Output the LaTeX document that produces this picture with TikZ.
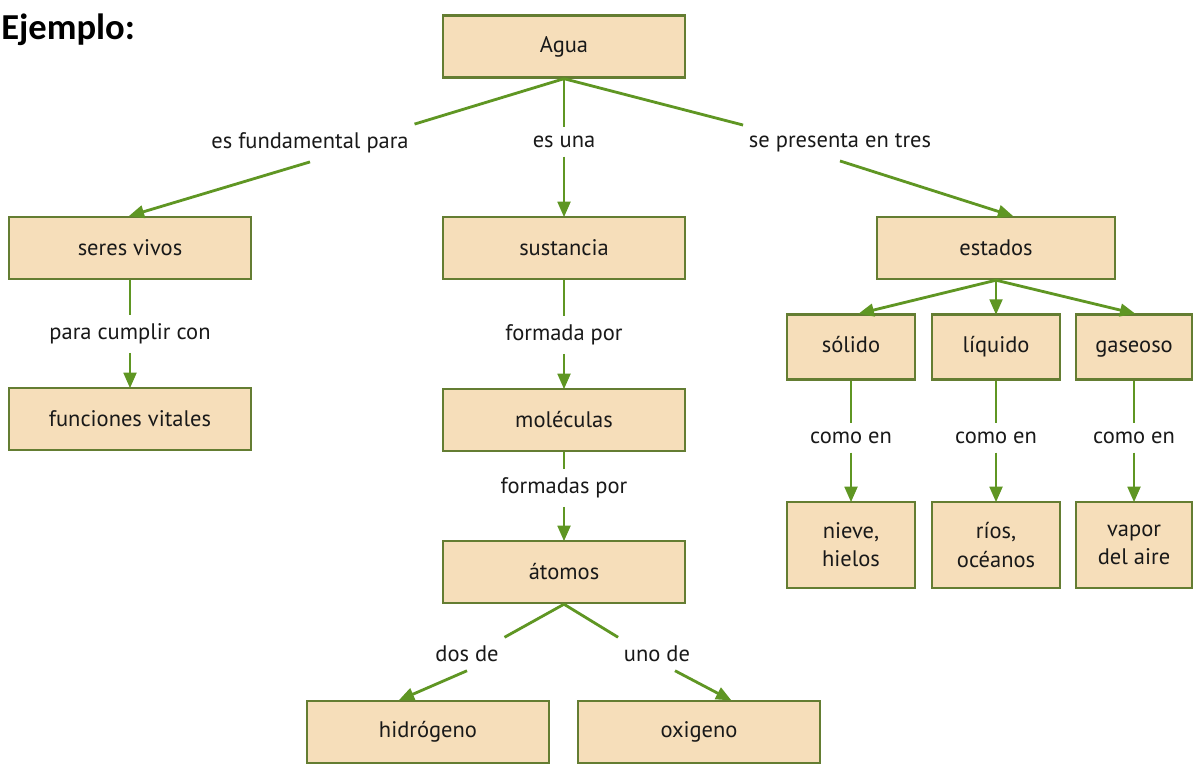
\documentclass[tikz,border=0pt]{standalone}
\usepackage{fontspec}
\setmainfont{PT Sans}
\newfontfamily\titulofont{Carlito}
\usetikzlibrary{arrows.meta}

\definecolor{verdelinea}{RGB}{95,150,35}
\definecolor{bordecaja}{RGB}{100,125,50}
\definecolor{fondocaja}{RGB}{246,222,186}
\definecolor{textocaja}{RGB}{25,25,25}

\tikzset{
	concepto/.style={draw=bordecaja, line width=1.7pt, fill=fondocaja, inner sep=0pt,
		minimum width=6.05cm, minimum height=1.55cm, align=center,
		font=\fontsize{16}{20}\selectfont, text=textocaja},
	estadobox/.style={concepto, minimum width=3.2cm, minimum height=1.62cm, text height=11.5pt, text depth=3.5pt},
	ejemplobox/.style={concepto, minimum width=3.2cm, minimum height=2.15cm},
	enlace/.style={inner xsep=4pt, inner ysep=6pt, font=\fontsize{16}{20}\selectfont, text=textocaja},
	linea/.style={draw=verdelinea, line width=2pt},
	flecha/.style={linea, -{Triangle[length=11pt,width=9pt]}, shorten >=-1pt}
}

\begin{document}
\begin{tikzpicture}[x=0.025cm, y=-0.025cm]
		
		% Marco de la figura
		\useasboundingbox (0,0) rectangle (1200,763);
		\clip (0,0) rectangle (1200,763);
		\fill[white] (0,0) rectangle (1200,763);
		
		% Titulo
		\node[anchor=base west, inner sep=0pt, font=\titulofont\bfseries\fontsize{26}{30}\selectfont] (titulo) at (1,39) {Ejemplo:};
		
		% Conceptos
		\node[concepto] (agua) at (564,46.5) {Agua};
		\node[concepto] (seres) at (130,248) {seres vivos};
		\node[concepto] (sustancia) at (564,248) {sustancia};
		\node[concepto, minimum width=5.95cm] (estados) at (996,248) {estados};
		\node[concepto] (funciones) at (130,419) {funciones vitales};
		\node[concepto] (moleculas) at (564,420) {moléculas};
		\node[concepto] (atomos) at (564,572) {átomos};
		\node[concepto] (hidrogeno) at (428,732) {hidrógeno};
		\node[concepto] (oxigeno) at (699,732) {oxigeno};
		
		% Estados del agua
		\node[estadobox] (solido) at (851,347) {sólido};
		\node[estadobox] (liquido) at (996,347) {líquido};
		\node[estadobox, minimum width=2.9cm] (gaseoso) at (1134,347) {gaseoso};
		\node[ejemplobox] (nieve) at (851,545) {nieve,\\hielos};
		\node[ejemplobox] (rios) at (996,545) {ríos,\\océanos};
		\node[ejemplobox, minimum width=2.9cm] (vapor) at (1134,545) {vapor\\del aire};
		
		% Palabras de enlace
		\node[enlace] (lfund) at (310,143) {es fundamental para};
		\node[enlace] (lesuna) at (564,142) {es una};
		\node[enlace] (lpresenta) at (840,143) {se presenta en tres};
		\node[enlace] (lcumplir) at (130,334) {para cumplir con};
		\node[enlace] (lformada) at (564,335) {formada por};
		\node[enlace] (lformadas) at (564,488) {formadas por};
		\node[enlace] (ldos) at (467,654) {dos de};
		\node[enlace] (luno) at (657,654) {uno de};
		\node[enlace] (lcomo1) at (851,438) {como en};
		\node[enlace] (lcomo2) at (996,438) {como en};
		\node[enlace] (lcomo3) at (1134,438) {como en};
		
		% Conectores
		\draw[linea] (agua.south) -- (lfund.north east);
		\draw[flecha] (lfund.south) -- (seres.north);
		\draw[linea] (agua.south) -- (lesuna);
		\draw[flecha] (lesuna) -- (sustancia);
		\draw[linea] (agua.south) -- (lpresenta.north west);
		\draw[flecha] (lpresenta.south) -- ([xshift=0.4cm]estados.north);
		
		\draw[linea] (seres) -- (lcumplir);
		\draw[flecha] (lcumplir) -- (funciones);
		\draw[linea] (sustancia) -- (lformada);
		\draw[flecha] (lformada) -- (moleculas);
		\draw[linea] (moleculas) -- (lformadas);
		\draw[flecha] (lformadas) -- (atomos);
		
		\draw[linea] (atomos.south) -- (ldos.north east);
		\draw[flecha] (ldos.south) -- ([xshift=-0.7cm]hidrogeno.north);
		\draw[linea] (atomos.south) -- (luno.north west);
		\draw[flecha] ([xshift=0.45cm]luno.south) -- ([xshift=0.78cm]oxigeno.north);
		
		\draw[flecha] (estados.south) -- ([xshift=0.22cm]solido.north);
		\draw[flecha] (estados.south) -- (liquido.north);
		\draw[flecha] (estados.south) -- (gaseoso.north);
		
		\draw[linea] (solido) -- (lcomo1);
		\draw[flecha] (lcomo1) -- (nieve);
		\draw[linea] (liquido) -- (lcomo2);
		\draw[flecha] (lcomo2) -- (rios);
		\draw[linea] (gaseoso) -- (lcomo3);
		\draw[flecha] (lcomo3) -- (vapor);
		
	\end{tikzpicture}
\end{document}
